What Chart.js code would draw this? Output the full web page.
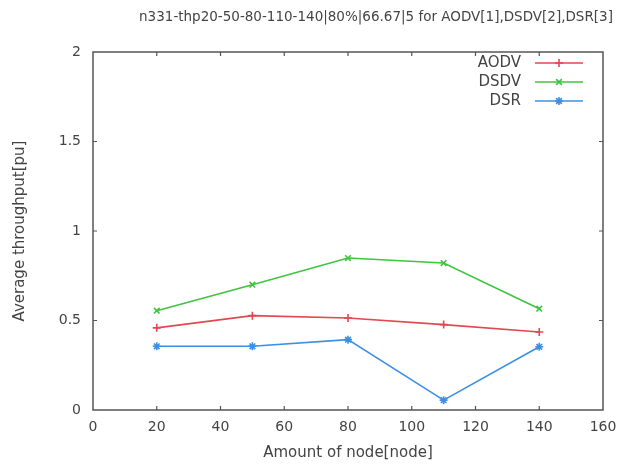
<!DOCTYPE html>
<html>
<head>
<meta charset="utf-8">
<script src="https://cdn.jsdelivr.net/npm/chart.js@4/dist/chart.umd.min.js"></script>
<style>
  html, body { margin: 0; padding: 0; background: #fff; }
  #wrap { width: 629px; height: 464px; }
</style>
</head>
<body>
<div id="wrap"><canvas id="c" width="629" height="464"></canvas></div>
<script>
const titleText = "n331-thp20-50-80-110-140|80%|66.67|5 for AODV[1],DSDV[2],DSR[3]";
const xTitle = "Amount of node[node]";
const yTitle = "Average throughput[pu]";
const nodes = [20, 50, 80, 110, 140];
const aodv = [0.459, 0.527, 0.514, 0.477, 0.436];
const dsdv = [0.555, 0.700, 0.849, 0.821, 0.566];
const dsr  = [0.356, 0.356, 0.393, 0.055, 0.353];
const seriesNames = ["AODV", "DSDV", "DSR"];
const xTicks = [0, 20, 40, 60, 80, 100, 120, 140, 160];
const yTicks = [0, 0.5, 1, 1.5, 2];

const FONT = "'DejaVu Sans', sans-serif";
const TXT = "#444";
const FRAME = "#555";
const colors = ["#e4474f", "#3fc43f", "#3b8fe6"];
const styles = ["cross", "crossRot", "star"];

function mk(vals, i) {
  return {
    label: seriesNames[i],
    data: nodes.map((x, k) => ({x: x, y: vals[k]})),
    borderColor: colors[i],
    backgroundColor: colors[i],
    borderWidth: 1.6,
    pointStyle: styles[i],
    pointRadius: 4,
    pointBorderWidth: 1.6,
    pointHoverRadius: 4,
    tension: 0,
    fill: false
  };
}

const framePlugin = {
  id: 'frame',
  afterDraw(chart) {
    const ctx = chart.ctx, a = chart.chartArea;
    const xs = chart.scales.x, ys = chart.scales.y;
    ctx.save();
    ctx.strokeStyle = FRAME;
    ctx.lineWidth = 1.5;
    ctx.strokeRect(a.left, a.top, a.right - a.left, a.bottom - a.top);
    ctx.lineWidth = 1.2;
    const L = 4;
    ctx.beginPath();
    xTicks.forEach(v => {
      if (v === xTicks[0] || v === xTicks[xTicks.length - 1]) return;
      const px = xs.getPixelForValue(v);
      ctx.moveTo(px, a.bottom); ctx.lineTo(px, a.bottom - L);
      ctx.moveTo(px, a.top); ctx.lineTo(px, a.top + L);
    });
    yTicks.forEach(v => {
      if (v === yTicks[0] || v === yTicks[yTicks.length - 1]) return;
      const py = ys.getPixelForValue(v);
      ctx.moveTo(a.left, py); ctx.lineTo(a.left + L, py);
      ctx.moveTo(a.right, py); ctx.lineTo(a.right - L, py);
    });
    ctx.stroke();

    // title
    ctx.fillStyle = TXT;
    ctx.font = "13.5px " + FONT;
    ctx.textAlign = "center";
    ctx.textBaseline = "middle";
    ctx.fillText(titleText, 376, 17);

    // legend
    ctx.font = "15px " + FONT;
    chart.data.datasets.forEach((ds, i) => {
      const y = 63 + i * 19;
      ctx.fillStyle = TXT;
      ctx.textAlign = "right";
      ctx.fillText(ds.label, 521, y);
      ctx.strokeStyle = ds.borderColor;
      ctx.lineWidth = 1.6;
      ctx.beginPath();
      ctx.moveTo(535, y); ctx.lineTo(583, y);
      ctx.stroke();
      ctx.fillStyle = ds.backgroundColor;
      Chart.helpers.drawPoint(ctx, {pointStyle: ds.pointStyle, radius: 4, rotation: 0, borderWidth: 1.6}, 559, y);
    });
    ctx.restore();
  }
};

new Chart(document.getElementById('c'), {
  type: 'line',
  data: { datasets: [mk(aodv, 0), mk(dsdv, 1), mk(dsr, 2)] },
  options: {
    responsive: false,
    animation: false,
    layout: { padding: { top: 52, right: 26, left: 0, bottom: 0 } },
    plugins: {
      legend: { display: false },
      title: { display: false },
      tooltip: { enabled: false }
    },
    scales: {
      x: {
        type: 'linear',
        min: 0, max: 160,
        afterBuildTicks(s) { s.ticks = xTicks.map(v => ({value: v})); },
        afterFit(s) { s.height = 54; },
        grid: { display: false, drawTicks: false },
        border: { display: false },
        ticks: { color: TXT, font: { family: FONT, size: 14 }, padding: 9, maxRotation: 0 },
        title: { display: true, text: xTitle, color: TXT, font: { family: FONT, size: 15 }, padding: { top: 0, bottom: 2 } }
      },
      y: {
        min: 0, max: 2,
        afterBuildTicks(s) { s.ticks = yTicks.map(v => ({value: v})); },
        afterFit(s) { s.width = 93; },
        grid: { display: false, drawTicks: false },
        border: { display: false },
        ticks: { color: TXT, font: { family: FONT, size: 14 }, padding: 12, callback: v => String(v) },
        title: { display: true, text: yTitle, color: TXT, font: { family: FONT, size: 15 }, padding: { top: 11, bottom: 0 } }
      }
    }
  },
  plugins: [framePlugin]
});
</script>
</body>
</html>
